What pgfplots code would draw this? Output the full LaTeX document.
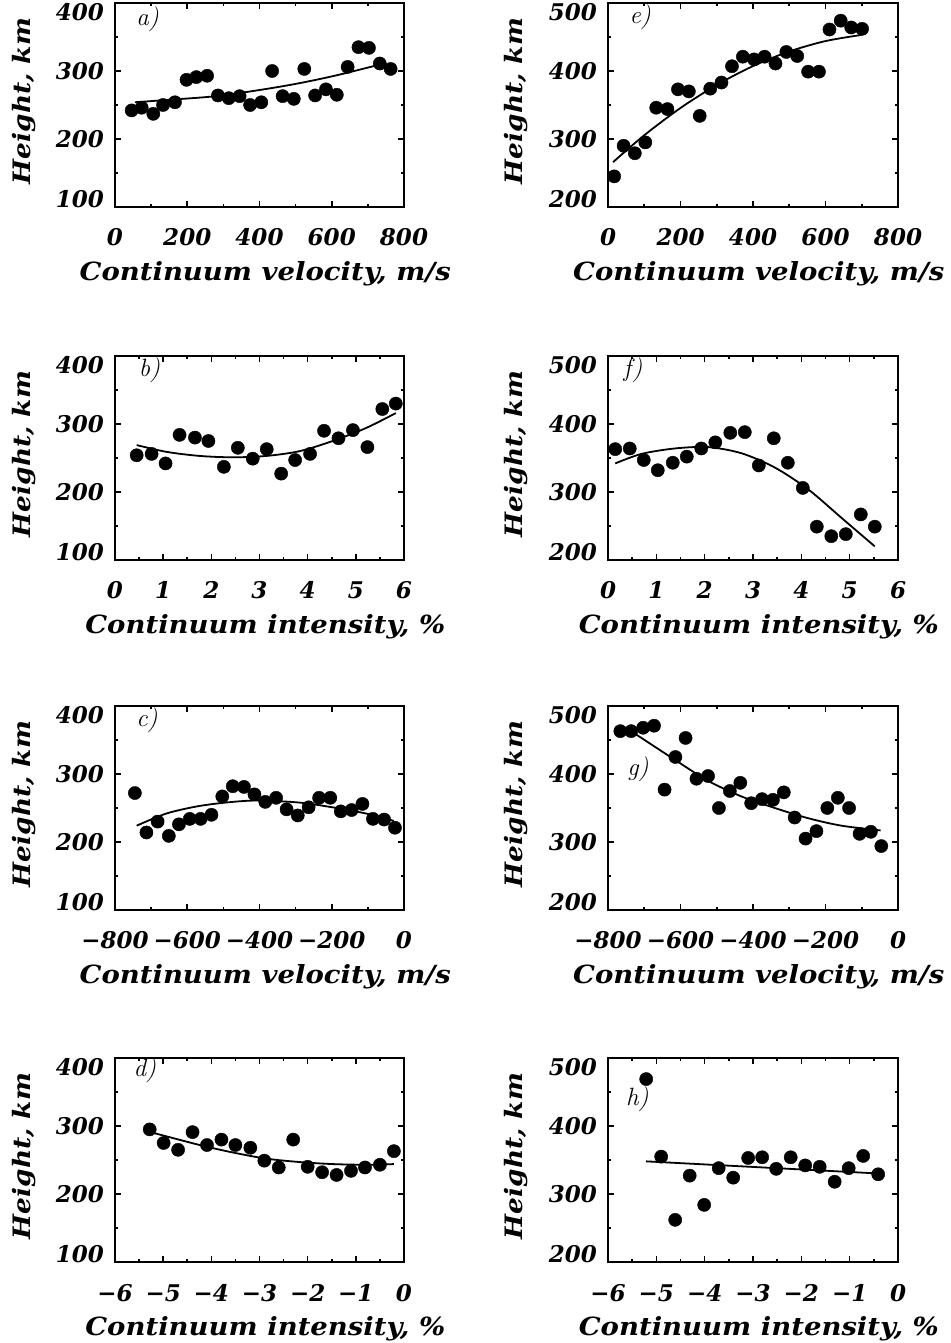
\documentclass[border=0pt]{standalone}
\usepackage{fontspec}
\usepackage{pgfplots}
\pgfplotsset{compat=1.18}
\newfontfamily\idl{DejaVu Serif}
\newfontfamily\idlw{DejaVu Serif}[FakeStretch=1.1]
\newcommand\tlab{\idl\bfseries\itshape\fontsize{23}{23}\selectfont}
\newcommand\xlab{\idlw\bfseries\itshape\fontsize{25}{25}\selectfont}
\newcommand\ylab{\idlw\bfseries\itshape\fontsize{24}{24}\selectfont}
\newcommand\plab{\itshape\fontsize{25}{25}\selectfont}

\pgfplotsset{
  panel/.style={
    scale only axis, anchor=south west, clip=false,
    height=204pt,
    axis line style={line width=2.6pt},
    tick style={line width=1.6pt, black},
    major tick length=6pt, minor tick length=3pt,
    tick align=inside,
    minor x tick num=1, minor y tick num=1,
    tick label style={font=\tlab, inner sep=0pt},
    xticklabel style={anchor=base, yshift=-39pt},
    yticklabel style={anchor=east, xshift=-11pt,
      yshift={8*(\ticknum==0)-9*(\ticknum==3)}},
    xlabel style={font=\xlab, at={(axis description cs:0.52,-0.36)}, anchor=base},
    ylabel style={font=\ylab, at={(axis description cs:-0.294,0.52)}, anchor=base},
    ylabel={Height, km},
  },
  pts/.style={only marks, mark=*, mark size=6.6pt, black},
  fit/.style={no marks, smooth, line width=1.8pt, black},
  left/.style={panel, width=289pt, ymin=100, ymax=400,
    ytick={100,200,300,400}, yticklabels={100,200,300,400}},
  right/.style={panel, width=290pt, ymin=200, ymax=500,
    ytick={200,300,400,500}, yticklabels={200,300,400,500}},
  vpos/.style={xmin=0, xmax=800, xtick={0,200,400,600,800},
    xticklabels={0,200,400,600,800}, xlabel={Continuum velocity, m/s}},
  vneg/.style={xmin=-800, xmax=0, xtick={-800,-600,-400,-200,0},
    xticklabels={−800,−600,−400,−200,0}, xlabel={Continuum velocity, m/s}},
  ipos/.style={xmin=0, xmax=6, xtick={0,1,2,3,4,5,6},
    xticklabels={0,1,2,3,4,5,6}, xlabel={Continuum intensity, \%}},
  ineg/.style={xmin=-6, xmax=0, xtick={-6,-5,-4,-3,-2,-1,0},
    xticklabels={−6,−5,−4,−3,−2,−1,0}, xlabel={Continuum intensity, \%}},
}

\begin{document}
\begin{tikzpicture}
\useasboundingbox (0,0) rectangle (950pt,1343pt);

% a)
\begin{axis}[left, vpos, at={(115pt,1136pt)}]
\addplot[pts] coordinates {(46,242)(74,246)(106,237)(133,250)(166,254)(198,287)(225,291)(255,293)(285,264)(315,260)(345,263)(374,250)(405,254)(435,300)(464,263)(495,259)(524,303)(554,264)(584,273)(614,265)(644,306)(674,335)(703,334)(733,311)(763,303)};
\addplot[fit] coordinates {(55,254)(160,258)(280,263)(400,272)(500,281)(600,292)(700,305)(735,310)};
\node[anchor=base west, font=\plab] at (rel axis cs:0.062,0.89) {a)};
\end{axis}

% e)
\begin{axis}[right, vpos, at={(608pt,1136pt)}]
\addplot[pts] coordinates {(17,245)(43,290)(74,279)(103,295)(133,346)(164,344)(193,373)(223,370)(253,334)(282,374)(313,383)(342,407)(372,421)(403,417)(432,421)(462,411)(492,428)(522,422)(552,399)(582,399)(611,461)(642,474)(671,464)(701,462)};
\addplot[fit] coordinates {(14,266)(100,305.5)(200,345.6)(300,379.5)(400,407.2)(500,428.7)(600,444)(699,453)};
\node[anchor=base west, font=\plab] at (rel axis cs:0.062,0.9) {e)};
\end{axis}

% b)
\begin{axis}[left, ipos, at={(115pt,783pt)}]
\addplot[pts] coordinates {(0.45,254)(0.76,256)(1.05,242)(1.34,284)(1.66,280)(1.94,275)(2.26,237)(2.55,265)(2.86,249)(3.15,263)(3.45,227)(3.74,247)(4.05,256)(4.34,290)(4.64,279)(4.94,291)(5.24,266)(5.55,322)(5.83,330)};
\addplot[fit] coordinates {(0.45,269)(1.07,259)(1.76,253)(2.45,251)(3.14,253)(3.83,260)(4.52,275)(5.21,294)(5.83,316)};
\node[anchor=base west, font=\plab] at (rel axis cs:0.07,0.9) {b)};
\end{axis}

% f)
\begin{axis}[right, ipos, at={(608pt,783pt)}]
\addplot[pts] coordinates {(0.15,363)(0.45,364)(0.74,347)(1.03,332)(1.34,343)(1.63,352)(1.93,364)(2.22,373)(2.53,387)(2.83,388)(3.12,339)(3.43,379)(3.72,343)(4.03,306)(4.32,249)(4.62,235)(4.92,238)(5.23,267)(5.52,249)};
\addplot[fit] coordinates {(0.15,342)(0.69,356)(1.38,364)(2.07,366)(2.76,357)(3.45,336)(4.14,304)(4.83,262)(5.52,220)};
\node[anchor=base west, font=\plab] at (rel axis cs:0.042,0.9) {f)};
\end{axis}

% c)
\begin{axis}[left, vneg, at={(115pt,433pt)}]
\addplot[pts] coordinates {(-745,272)(-713,214)(-682,230)(-651,209)(-623,226)(-593,234)(-563,234)(-533,240)(-503,267)(-474,282)(-443,281)(-414,270)(-384,259)(-354,265)(-325,248)(-294,239)(-264,251)(-235,265)(-204,265)(-175,245)(-145,247)(-115,256)(-86,234)(-55,233)(-25,221)};
\addplot[fit] coordinates {(-740,224)(-657,242)(-566,253)(-474,259)(-400,261)(-290,258)(-198,251)(-106,242)(-28,231)};
\node[anchor=base west, font=\plab] at (rel axis cs:0.062,0.9) {c)};
\end{axis}

% g)
\begin{axis}[right, vneg, at={(608pt,433pt)}]
\addplot[pts] coordinates {(-766,463)(-736,463)(-703,468)(-673,471)(-644,377)(-614,425)(-586,453)(-556,393)(-524,397)(-494,350)(-464,375)(-435,387)(-405,357)(-375,363)(-345,362)(-315,373)(-285,336)(-255,305)(-225,316)(-195,350)(-166,365)(-135,350)(-106,312)(-75,315)(-46,294)};
\addplot[fit] coordinates {(-722,458)(-616,421)(-524,390)(-432,367)(-340,350)(-248,335)(-156,324)(-48,317)};
\node[anchor=base west, font=\plab] at (rel axis cs:0.055,0.66) {g)};
\end{axis}

% d)
\begin{axis}[left, ineg, at={(115pt,81pt)}]
\addplot[pts] coordinates {(-5.28,295)(-4.99,275)(-4.69,265)(-4.39,291)(-4.09,272)(-3.79,280)(-3.50,272)(-3.19,268)(-2.90,249)(-2.60,239)(-2.30,280)(-2.00,240)(-1.70,232)(-1.40,228)(-1.10,234)(-0.81,239)(-0.50,243)(-0.21,263)};
\addplot[fit] coordinates {(-5.21,290)(-4.24,272)(-3.55,261)(-2.86,252)(-2.17,247)(-1.48,244)(-0.79,243)(-0.21,244)};
\node[anchor=base west, font=\plab] at (rel axis cs:0.052,0.91) {d)};
\end{axis}

% h)
\begin{axis}[right, ineg, at={(608pt,81pt)}]
\addplot[pts] coordinates {(-5.21,469)(-4.90,355)(-4.61,262)(-4.31,327)(-4.01,284)(-3.71,338)(-3.41,324)(-3.10,353)(-2.81,354)(-2.52,337)(-2.22,354)(-1.92,342)(-1.62,340)(-1.31,318)(-1.02,338)(-0.72,356)(-0.41,329)};
\addplot[fit] coordinates {(-5.21,348)(-0.36,330)};
\node[anchor=base west, font=\plab] at (rel axis cs:0.05,0.765) {h)};
\end{axis}
\end{tikzpicture}
\end{document}
